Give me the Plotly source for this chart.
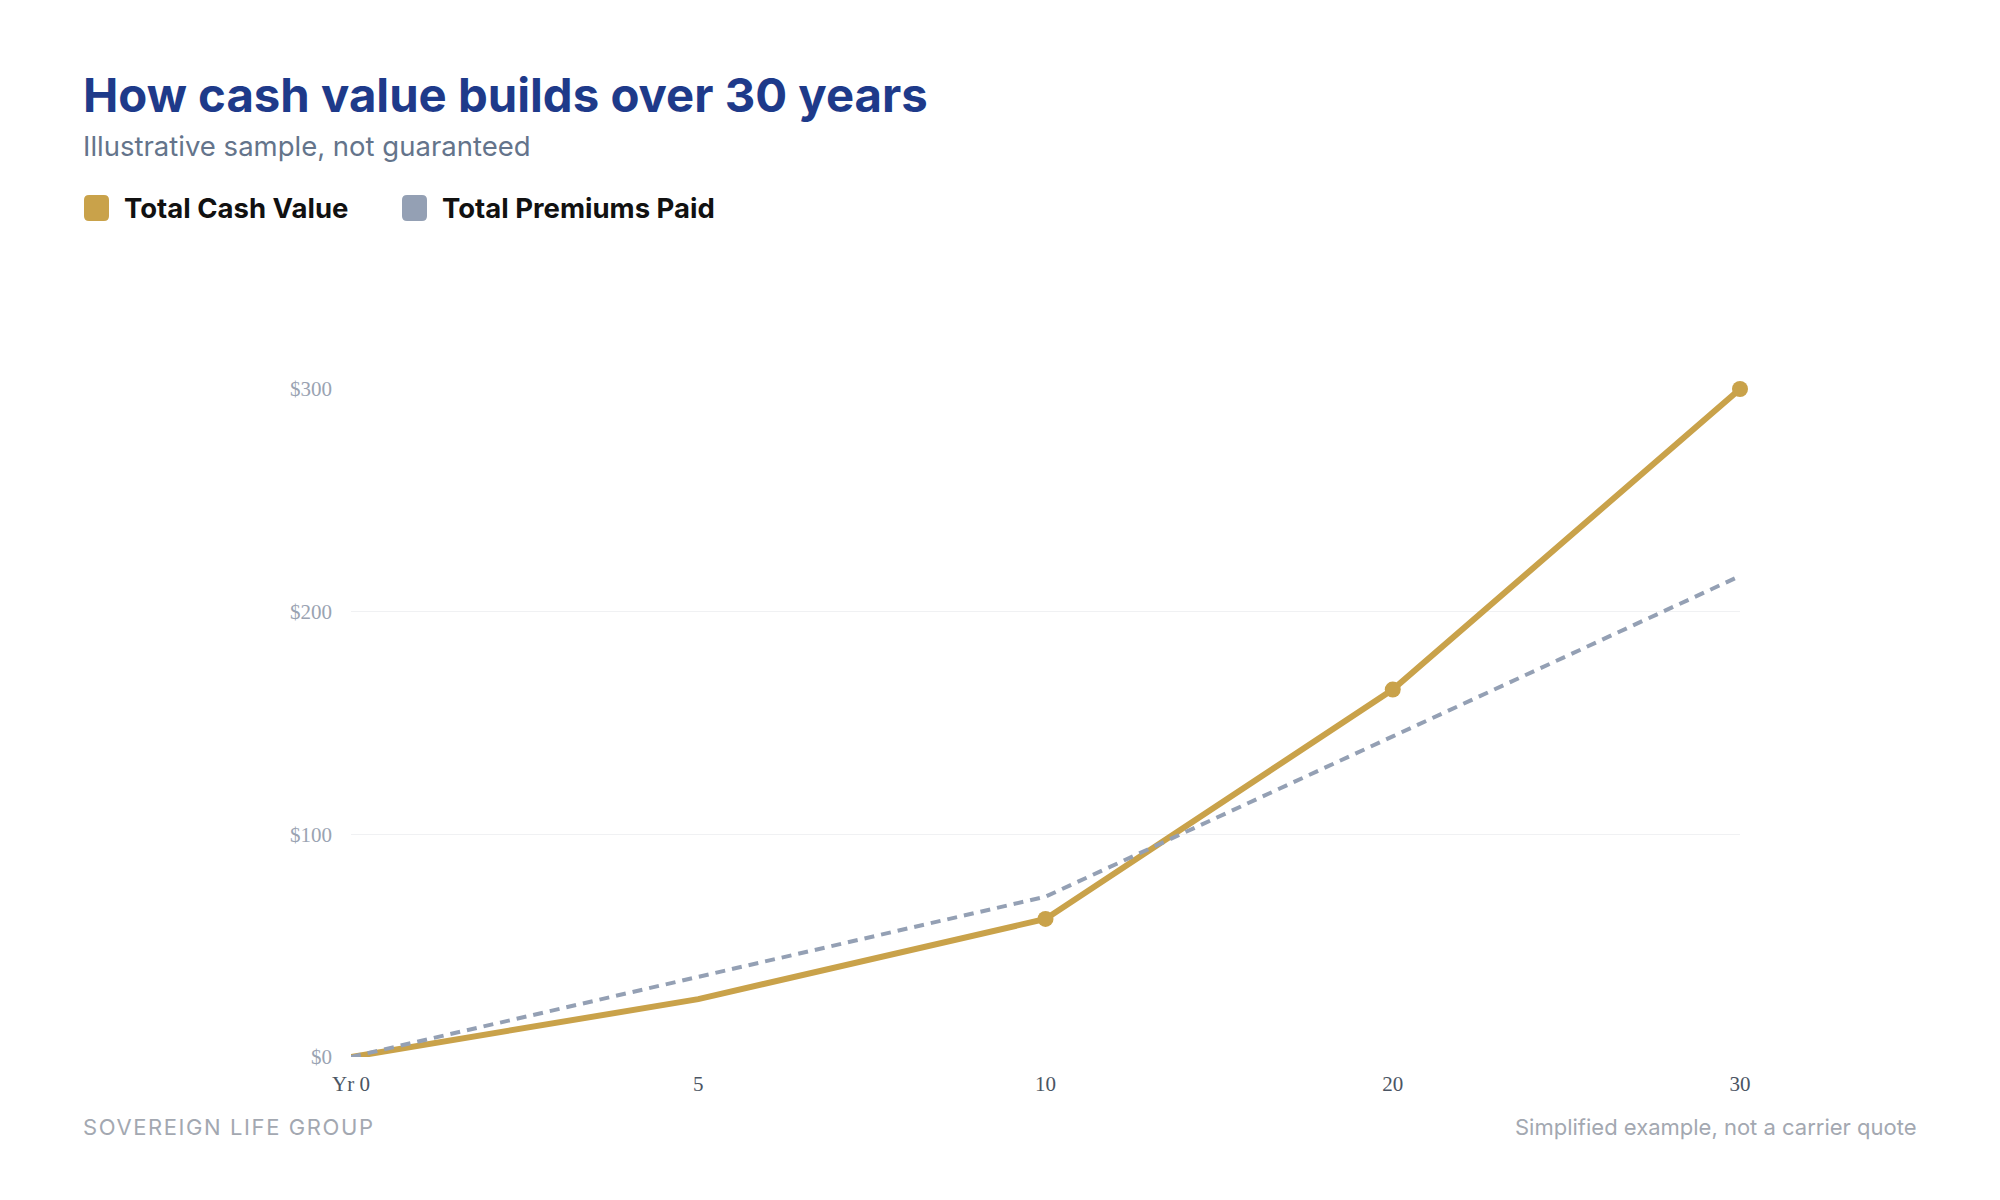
import plotly.graph_objects as go

years = ["Yr 0", "5", "10", "20", "30"]
cash_value = [0, 26, 62, 165, 300]
premiums_paid = [0, 36, 72, 144, 216]
marker_sizes = [0, 0, 16, 16, 16]
y_ticks = [0, 100, 200, 300]
y_tick_labels = ["$0", "$100", "$200", "$300"]

GOLD = "#C9A24A"
GRAY = "#94A0B4"

fig = go.Figure()
fig.add_trace(go.Scatter(
    x=years, y=cash_value, name="Total Cash Value",
    mode="lines+markers",
    line=dict(color=GOLD, width=6),
    marker=dict(color=GOLD, size=marker_sizes, opacity=1, line=dict(width=0)),
    cliponaxis=False,
    showlegend=False,
))
fig.add_trace(go.Scatter(
    x=years, y=premiums_paid, name="Total Premiums Paid",
    mode="lines",
    line=dict(color=GRAY, width=4, dash="10px,7px"),
    cliponaxis=False,
    showlegend=False,
))

W, H = 2000, 1200
L, R, T, B = 351, 260, 389, 143

def px(x):
    return (x - L) / (W - L - R)

def py(y):
    return (H - B - y) / (H - T - B)

fig.update_layout(
    width=W, height=H,
    margin=dict(l=L, r=R, t=T, b=B),
    paper_bgcolor="white", plot_bgcolor="white",
    xaxis=dict(
        type="category", range=[0, 4], showgrid=False, zeroline=False,
        showline=False, ticks="",
        tickfont=dict(family="Liberation Serif", size=21, color="#4B5563"),
        ticklabelstandoff=12,
    ),
    yaxis=dict(
        range=[0, 300], tickvals=y_ticks, ticktext=y_tick_labels,
        showgrid=True, gridcolor="#F0F1F3", gridwidth=1,
        zeroline=False, showline=False, ticks="",
        tickfont=dict(family="Liberation Serif", size=21, color="#9AA3B2"),
        ticklabelstandoff=18,
    ),
)

annotations = [
    dict(text="<b>How cash value builds over 30 years</b>", x=px(81), y=py(94),
         font=dict(family="Inter", size=47.3, color="#1E3A8A")),
    dict(text="Illustrative sample, not guaranteed", x=px(81), y=py(146),
         font=dict(family="Inter", size=27.5, color="#64748B")),
    dict(text="<b>Total Cash Value</b>", x=px(122), y=py(208),
         font=dict(family="Inter", size=27.5, color="#111111")),
    dict(text="<b>Total Premiums Paid</b>", x=px(440), y=py(208),
         font=dict(family="Inter", size=27.5, color="#111111")),
    dict(text='<span style="letter-spacing:1.6px">SOVEREIGN LIFE GROUP</span>', x=px(81), y=py(1127),
         font=dict(family="Inter", size=22, color="#A3A8B1")),
]
for a in annotations:
    a.update(xref="paper", yref="paper", xanchor="left", yanchor="middle", showarrow=False)
annotations.append(dict(text="Simplified example, not a carrier quote", x=px(1919), y=py(1127),
                        xref="paper", yref="paper", xanchor="right", yanchor="middle", showarrow=False,
                        font=dict(family="Inter", size=22, color="#A3A8B1")))
fig.update_layout(annotations=annotations)

def rounded_rect(x0, y0, x1, y1, r):
    return (f"M{x0+r},{y0} L{x1-r},{y0} Q{x1},{y0} {x1},{y0+r} L{x1},{y1-r} "
            f"Q{x1},{y1} {x1-r},{y1} L{x0+r},{y1} Q{x0},{y1} {x0},{y1-r} "
            f"L{x0},{y0+r} Q{x0},{y0} {x0+r},{y0} Z")

shapes = []
for x0, color in [(84, GOLD), (402, GRAY)]:
    shapes.append(dict(type="path", xref="paper", yref="paper", xsizemode="pixel", ysizemode="pixel",
                       xanchor=px(x0), yanchor=py(208),
                       path=rounded_rect(0, -13, 25, 13, 5),
                       fillcolor=color, line=dict(width=0)))
fig.update_layout(shapes=shapes)

fig.write_html("out.html")
